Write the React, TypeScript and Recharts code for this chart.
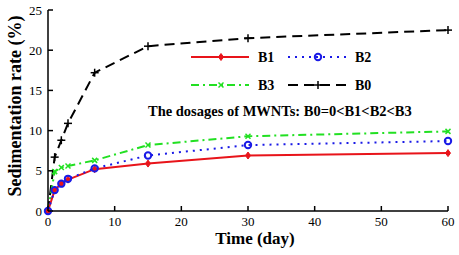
import React from "react";
import { LineChart, Line, XAxis, YAxis, Legend } from "recharts";

// sampling times (day) and sedimentation rate (%) per dosage
const days = [0, 1, 2, 3, 7, 15, 30, 60];
const b0 = [0, 6.7, 8.8, 10.9, 17.2, 20.5, 21.5, 22.5];
const b1 = [0, 2.6, 3.4, 3.9, 5.2, 5.9, 6.9, 7.2];
const b2 = [0, 2.6, 3.4, 4.0, 5.3, 6.9, 8.2, 8.7];
const b3 = [0, 4.9, 5.4, 5.6, 6.3, 8.2, 9.3, 9.9];

const xTicks = [0, 10, 20, 30, 40, 50, 60];
const yTicks = [0, 5, 10, 15, 20, 25];

const data = days.map((d, i) => ({
    day: d,
    B0: b0[i],
    B1: b1[i],
    B2: b2[i],
    B3: b3[i]
}));

const FONT = "'Liberation Serif', 'Times New Roman', serif";
const TM = 6; // tick margin
const TICK_LEN = 5;

const colors = {
    B0: "#000000",
    B1: "#e8141a",
    B2: "#1a1ae6",
    B3: "#22e022"
};

const dashes = {
    B0: "10 6",
    B1: undefined,
    B2: "2 5",
    B3: "8 4 2 4"
};

const serif = { fontFamily: FONT };

// marker shapes
const marker = (name: string, cx: number, cy: number, key?: any) => {
    const c = colors[name as keyof typeof colors];
    if (name === "B1") {
        return (
            <polygon
                key={key}
                points={`${cx},${cy - 3.5} ${cx + 2.5},${cy} ${cx},${cy + 3.5} ${cx - 2.5},${cy}`}
                fill={c}
                stroke={c}
                strokeWidth={1}
            />
        );
    }
    if (name === "B2") {
        return (
            <circle key={key} cx={cx} cy={cy} r={3.2} fill="none" stroke={c} strokeWidth={2} />
        );
    }
    if (name === "B3") {
        return (
            <g key={key} stroke={c} strokeWidth={1.5}>
                <line x1={cx - 2.5} y1={cy - 2.5} x2={cx + 2.5} y2={cy + 2.5} />
                <line x1={cx - 2.5} y1={cy + 2.5} x2={cx + 2.5} y2={cy - 2.5} />
            </g>
        );
    }
    return (
        <g key={key} stroke={c} strokeWidth={1.5}>
            <line x1={cx - 4} y1={cy} x2={cx + 4} y2={cy} />
            <line x1={cx} y1={cy - 4} x2={cx} y2={cy + 4} />
        </g>
    );
};

const makeDot = (name: string) => (props: any) => {
    const { cx, cy, index } = props;
    if (cx == null || cy == null) return <g key={index} />;
    return marker(name, cx, cy, index);
};

const BottomTick = (props: any) => {
    const { x, y, payload } = props;
    return (
        <g>
            <line x1={x} y1={y - TM} x2={x} y2={y - TM - TICK_LEN} stroke="#000" strokeWidth={1.5} />
            <text x={x} y={y} dy="0.71em" textAnchor="middle" fontSize={13} style={serif} fill="#000">
                {payload.value}
            </text>
        </g>
    );
};

const LeftTick = (props: any) => {
    const { x, y, payload } = props;
    return (
        <g>
            <line x1={x + TM} y1={y} x2={x + TM + TICK_LEN} y2={y} stroke="#000" strokeWidth={1.5} />
            <text x={x} y={y} dy="0.36em" textAnchor="end" fontSize={13} style={serif} fill="#000">
                {payload.value}
            </text>
        </g>
    );
};

const TopTick = (props: any) => {
    const { x, y } = props;
    return <line x1={x} y1={y} x2={x} y2={y + TICK_LEN} stroke="#000" strokeWidth={1.5} />;
};

const RightTick = (props: any) => {
    const { x, y } = props;
    return <line x1={x} y1={y} x2={x - TICK_LEN} y2={y} stroke="#000" strokeWidth={1.5} />;
};

// legend drawn inside the plot box, two columns plus a note
const legendItems = [
    { name: "B1", x: 191, y: 57 },
    { name: "B2", x: 288, y: 57 },
    { name: "B3", x: 191, y: 85 },
    { name: "B0", x: 288, y: 85 }
];

const LegendBox = () => (
    <svg
        width={459}
        height={255}
        style={{ position: "absolute", left: 0, top: 0, pointerEvents: "none" }}
    >
        {legendItems.map((it) => {
            const c = colors[it.name as keyof typeof colors];
            return (
                <g key={it.name}>
                    <line
                        x1={it.x}
                        y1={it.y}
                        x2={it.x + 58}
                        y2={it.y}
                        stroke={c}
                        strokeWidth={2}
                        strokeDasharray={dashes[it.name as keyof typeof dashes]}
                    />
                    {marker(it.name, it.x + 30, it.y)}
                    <text
                        x={it.x + 67}
                        y={it.y}
                        dy="0.36em"
                        fontSize={14}
                        fontWeight="bold"
                        style={serif}
                        fill="#000"
                    >
                        {it.name}
                    </text>
                </g>
            );
        })}
        <text x={148} y={111} dy="0.36em" fontSize={14.5} fontWeight="bold" style={serif} fill="#000">
            The dosages of MWNTs: B0=0&lt;B1&lt;B2&lt;B3
        </text>
    </svg>
);

export default function App() {
    return (
        <div style={{ position: "absolute", left: 0, top: 0, width: 459, height: 255, background: "#fff" }}>
            <LineChart width={459} height={255} data={data} margin={{ top: 10, right: 11, left: 0, bottom: 0 }}>
                <XAxis
                    dataKey="day"
                    type="number"
                    domain={[0, 60]}
                    ticks={xTicks}
                    height={44}
                    tickSize={0}
                    tickMargin={TM}
                    tickLine={false}
                    tick={<BottomTick />}
                    axisLine={{ stroke: "#000", strokeWidth: 1.5 }}
                    interval={0}
                    label={{
                        content: () => (
                            <text
                                x={255}
                                y={238}
                                dy="0.36em"
                                textAnchor="middle"
                                fontSize={17}
                                fontWeight="bold"
                                style={serif}
                                fill="#000"
                            >
                                Time (day)
                            </text>
                        )
                    }}
                />
                <XAxis
                    xAxisId="top"
                    dataKey="day"
                    type="number"
                    orientation="top"
                    domain={[0, 60]}
                    ticks={xTicks}
                    height={0}
                    tickSize={0}
                    tickMargin={0}
                    tickLine={false}
                    tick={<TopTick />}
                    axisLine={{ stroke: "#000", strokeWidth: 1.5 }}
                    interval={0}
                />
                <YAxis
                    type="number"
                    domain={[0, 25]}
                    ticks={yTicks}
                    width={48}
                    tickSize={0}
                    tickMargin={TM}
                    tickLine={false}
                    tick={<LeftTick />}
                    axisLine={{ stroke: "#000", strokeWidth: 1.5 }}
                    interval={0}
                    label={{
                        content: () => (
                            <text
                                x={15}
                                y={106}
                                transform="rotate(-90 15 106)"
                                dy="0.36em"
                                textAnchor="middle"
                                fontSize={18}
                                fontWeight="bold"
                                style={serif}
                                fill="#000"
                            >
                                Sedimentation rate (%)
                            </text>
                        )
                    }}
                />
                <YAxis
                    yAxisId="right"
                    orientation="right"
                    type="number"
                    domain={[0, 25]}
                    ticks={yTicks}
                    width={0}
                    tickSize={0}
                    tickMargin={0}
                    tickLine={false}
                    tick={<RightTick />}
                    axisLine={{ stroke: "#000", strokeWidth: 1.5 }}
                    interval={0}
                />
                <Legend verticalAlign="top" wrapperStyle={{ left: 0, top: 0 }} content={() => <LegendBox />} />
                <Line
                    dataKey="B0"
                    type="linear"
                    stroke={colors.B0}
                    strokeWidth={2}
                    strokeDasharray={dashes.B0}
                    dot={makeDot("B0")}
                    activeDot={false}
                    isAnimationActive={false}
                />
                <Line
                    dataKey="B3"
                    type="linear"
                    stroke={colors.B3}
                    strokeWidth={2}
                    strokeDasharray={dashes.B3}
                    dot={makeDot("B3")}
                    activeDot={false}
                    isAnimationActive={false}
                />
                <Line
                    dataKey="B1"
                    type="linear"
                    stroke={colors.B1}
                    strokeWidth={2}
                    dot={makeDot("B1")}
                    activeDot={false}
                    isAnimationActive={false}
                />
                <Line
                    dataKey="B2"
                    type="linear"
                    stroke={colors.B2}
                    strokeWidth={2}
                    strokeDasharray={dashes.B2}
                    dot={makeDot("B2")}
                    activeDot={false}
                    isAnimationActive={false}
                />
            </LineChart>
        </div>
    );
}
